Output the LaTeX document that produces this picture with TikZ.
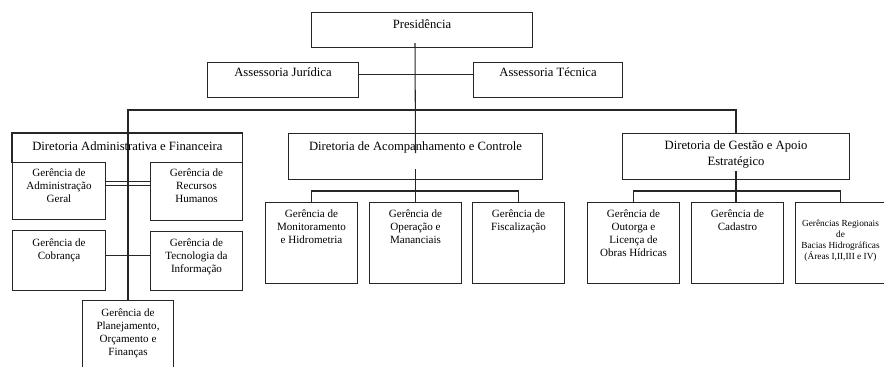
\documentclass[tikz,border=0pt]{standalone}
\usepackage{fontspec}
\setmainfont{Liberation Serif}
\usetikzlibrary{positioning,calc}

\begin{document}
\begin{tikzpicture}[x=0.02cm, y=-0.02cm,
  box/.style={draw=black!85, line width=0.6pt, fill=white, inner sep=0pt, anchor=north west},
  dtxt/.style={anchor=north, align=center, inner sep=0pt, font=\fontsize{7.2}{9}\selectfont},
  gtxt/.style={anchor=north, align=center, inner sep=0pt, font=\fontsize{6.3}{7.4}\selectfont},
  rtxt/.style={anchor=north, align=center, inner sep=0pt, font=\fontsize{5.3}{6.2}\selectfont},
  conn/.style={draw=black!85, line width=0.6pt}]

\useasboundingbox (0,0) rectangle (884,366);

% top
\node[box, minimum width=4.42cm, minimum height=0.70cm] (pres) at (311,12) {};
\node[box, minimum width=3.02cm, minimum height=0.70cm] (asj) at (207,62) {};
\node[box, minimum width=2.98cm, minimum height=0.70cm] (ast) at (473,62) {};
\coordinate (bus) at (415,110);

% diretorias
\node[inner sep=0pt, anchor=north west, minimum width=4.60cm, minimum height=0.58cm] (dirA) at (12,133) {};
\draw[conn] (dirA.south west) |- (dirA.north east) -- (dirA.south east);
\node[box, minimum width=5.08cm, minimum height=0.92cm] (dirC) at (288,133) {};
\node[box, minimum width=4.54cm, minimum height=0.92cm] (dirG) at (622,133) {};

% left column
\node[box, minimum width=1.82cm, minimum height=1.60cm] (plan) at (82,300) {};

% connectors
\draw[conn] ($(bus |- pres.south)+(0,-5)$) -- ($(dirC.north)+(0,20)$);
\draw[conn] ($(asj.east)+(0,-6)$) -- ($(ast.west)+(0,-6)$);
\draw[conn] (plan.north) |- (bus) -| (dirG.north);
\draw[conn] ($(dirC.south)+(0,-11)$) -- (dirC.south |- 0,202);
\draw[conn] ($(dirG.south)+(0,-9)$) -- (dirG.south |- 0,202);

\node[box, minimum width=1.86cm, minimum height=1.14cm] (adm) at (12,162) {};
\node[box, minimum width=1.84cm, minimum height=1.16cm] (rh) at (150,162) {};
\node[box, minimum width=1.86cm, minimum height=1.20cm] (cob) at (12,230) {};
\node[box, minimum width=1.84cm, minimum height=1.18cm] (ti) at (150,231) {};
\draw[conn] ($(adm.east)+(0,-10)$) -- ($(rh.west |- adm.east)+(0,-10)$);
\draw[conn] ($(adm.east)+(0,-6)$) -- ($(rh.west |- adm.east)+(0,-6)$);
\draw[conn] ($(cob.east)+(0,-5)$) -- ($(ti.west |- cob.east)+(0,-5)$);

% gerencias
\node[box, minimum width=1.84cm, minimum height=1.62cm] (mon) at (265,202) {};
\node[box, minimum width=1.84cm, minimum height=1.62cm] (ope) at (369,202) {};
\node[box, minimum width=1.84cm, minimum height=1.62cm] (fis) at (472,202) {};
\node[box, minimum width=1.84cm, minimum height=1.62cm] (out) at (587,202) {};
\node[box, minimum width=1.84cm, minimum height=1.62cm] (cad) at (691,202) {};
\node[box, minimum width=1.80cm, minimum height=1.62cm] (reg) at (795,202) {};
\draw[conn] (mon.north) -- ++(0,-11) -| (fis.north);
\draw[conn] (out.north) -- ++(0,-11) -| (reg.north);

% texts
\node[dtxt, below=0.15cm of pres.north] (presT) {Presidência};
\node[dtxt, below=0.11cm of asj.north] (asjT) {Assessoria Jurídica};
\node[dtxt, below=0.11cm of ast.north] (astT) {Assessoria Técnica};
\node[dtxt, below=0.17cm of dirA.north] (dirAT) {Diretoria Administrativa e Financeira};
\node[dtxt, below=0.17cm of dirC.north] (dirCT) {Diretoria de Acompanhamento e Controle};
\node[dtxt, below=0.15cm of dirG.north] (dirGT) {Diretoria de Gestão e Apoio\\Estratégico};

\node[gtxt, below=0.12cm of adm.north] (admT) {Gerência de\\Administração\\Geral};
\node[gtxt, below=0.12cm of rh.north] (rhT) {Gerência de\\Recursos\\Humanos};
\node[gtxt, below=0.16cm of cob.north] (cobT) {Gerência de\\Cobrança};
\node[gtxt, below=0.14cm of ti.north] (tiT) {Gerência de\\Tecnologia da\\Informação};
\node[gtxt, below=0.16cm of plan.north] (planT) {Gerência de\\Planejamento,\\Orçamento e\\Finanças};

\node[gtxt, below=0.14cm of mon.north] (monT) {Gerência de\\Monitoramento\\e Hidrometria};
\node[gtxt, below=0.14cm of ope.north] (opeT) {Gerência de\\Operação e\\Mananciais};
\node[gtxt, below=0.14cm of fis.north] (fisT) {Gerência de\\Fiscalização};
\node[gtxt, below=0.14cm of out.north] (outT) {Gerência de\\Outorga e\\Licença de\\Obras Hídricas};
\node[gtxt, below=0.14cm of cad.north] (cadT) {Gerência de\\Cadastro};
\node[rtxt, below=0.36cm of reg.north] (regT) {Gerências Regionais\\de\\Bacias Hidrográficas\\(Áreas I,II,III e IV)};

\end{tikzpicture}
\end{document}
